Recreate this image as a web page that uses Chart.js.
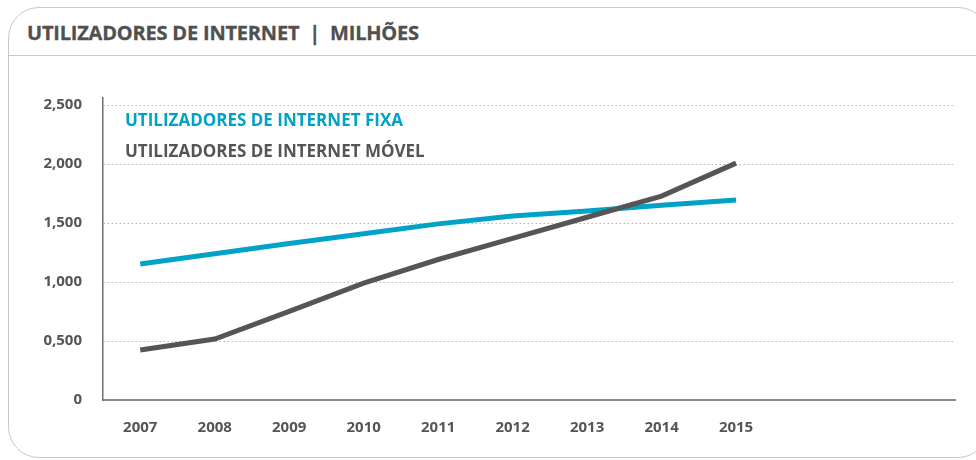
<!DOCTYPE html>
<html lang="pt">
<head>
<meta charset="utf-8">
<title>Utilizadores de Internet</title>
<script src="https://cdn.jsdelivr.net/npm/chart.js@4"></script>
<style>
  html, body { margin: 0; padding: 0; background: #fff; }
  body { width: 976px; height: 460px; position: relative; overflow: hidden; font-family: "Open Sans", sans-serif; }
  .frame {
    position: absolute; left: 8px; top: 7px; width: 981px; height: 451px;
    border: 1.5px solid #c9c9c9; border-radius: 31px; box-sizing: border-box;
  }
  .frame .rule { position: absolute; left: 0; right: 0; top: 47px; border-top: 1.5px solid #c9c9c9; }
  .title {
    position: absolute; left: 27px; top: 19px; font-weight: 700; font-size: 20px;
    line-height: 28px; color: #505050; white-space: nowrap; letter-spacing: -0.2px;
    -webkit-text-stroke: 0.3px #505050;
  }
  #chart { position: absolute; left: 0; top: 0; }
</style>
</head>
<body>
<div class="frame"><div class="rule"></div></div>
<div class="title">UTILIZADORES DE INTERNET&nbsp; |&nbsp; MILHÕES</div>
<canvas id="chart" width="976" height="460"></canvas>
<script>
// Years on the x axis
const years = [2007, 2008, 2009, 2010, 2011, 2012, 2013, 2014, 2015];

// Users in millions
const fixedUsers  = [1153, 1239, 1327, 1409, 1493, 1559, 1603, 1650, 1695];
const mobileUsers = [424, 517, 751, 990, 1191, 1370, 1549, 1729, 2008];

// Y tick values and their printed labels
const yTicks = [0, 500, 1000, 1500, 2000, 2500];
const yTickLabels = ['0', '0,500', '1,000', '1,500', '2,000', '2,500'];

const seriesNames = ['UTILIZADORES DE INTERNET FIXA', 'UTILIZADORES DE INTERNET MÓVEL'];
const BLUE = '#00a2c7';
const GREY = '#555555';
const FONT = '"Open Sans", sans-serif';

const toPoints = (vals) => vals.map((v, i) => ({ x: years[i], y: v }));

// Series names written inside the plot, top left
const innerLegend = {
  id: 'innerLegend',
  afterDraw(chart) {
    const ctx = chart.ctx;
    ctx.save();
    ctx.font = 'bold 17px ' + FONT;
    ctx.textBaseline = 'middle';
    ctx.textAlign = 'left';
    const rows = [121, 152];
    chart.data.datasets.forEach((ds, i) => {
      ctx.fillStyle = ds.borderColor;
      ctx.fillText(ds.label, 125, rows[i]);
    });
    ctx.restore();
  }
};

new Chart(document.getElementById('chart'), {
  type: 'line',
  data: {
    datasets: [
      {
        label: seriesNames[0],
        data: toPoints(fixedUsers),
        borderColor: BLUE,
        borderWidth: 5,
        pointRadius: 0,
        tension: 0,
        borderCapStyle: 'butt',
        order: 2
      },
      {
        label: seriesNames[1],
        data: toPoints(mobileUsers),
        borderColor: GREY,
        borderWidth: 5,
        pointRadius: 0,
        tension: 0,
        borderCapStyle: 'butt',
        order: 1
      }
    ]
  },
  options: {
    responsive: false,
    animation: false,
    layout: { padding: { top: 98, right: 21, left: 0, bottom: 0 } },
    plugins: {
      legend: { display: false },
      tooltip: { enabled: false }
    },
    scales: {
      x: {
        type: 'linear',
        min: 2006.5,
        max: 2017.94,
        afterBuildTicks: (scale) => { scale.ticks = years.map(v => ({ value: v })); },
        afterFit: (scale) => { scale.height = 60; },
        grid: { display: false, drawTicks: false },
        border: { display: true, color: '#8a8a8a', width: 2 },
        ticks: {
          padding: 19,
          color: GREY,
          font: { family: FONT, size: 15, weight: 'bold' },
          callback: (v) => String(v)
        }
      },
      y: {
        min: 0,
        max: 2560,
        afterBuildTicks: (scale) => { scale.ticks = yTicks.map(v => ({ value: v })); },
        afterFit: (scale) => { scale.width = 103; },
        grid: { color: '#b5b5b5', lineWidth: 1, drawTicks: false },
        border: { display: true, color: '#6e6e6e', width: 1.5, dash: [1.5, 2.5] },
        ticks: {
          padding: 21,
          color: GREY,
          font: { family: FONT, size: 15, weight: 'bold' },
          callback: (v) => yTickLabels[yTicks.indexOf(v)]
        }
      }
    }
  },
  plugins: [innerLegend]
});
</script>
</body>
</html>
